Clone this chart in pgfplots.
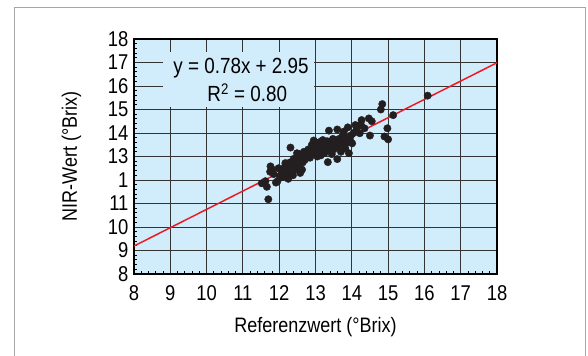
\documentclass[border=0pt]{standalone}
\usepackage{pgfplots}
\pgfplotsset{compat=1.18}
\usepackage{fontspec}
\setmainfont{Liberation Sans}[FakeStretch=0.86]
\definecolor{bgblue}{RGB}{209,236,250}
\definecolor{dotcol}{RGB}{35,31,32}
\definecolor{linered}{RGB}{237,28,36}
\begin{document}
\begin{tikzpicture}
\useasboundingbox (0,0) rectangle (588bp,356bp);
\draw[gray!70, line width=1bp] (14bp,-5bp) -- (14bp,348bp) -- (585bp,348bp) -- (585bp,-5bp);
\begin{axis}[
  at={(134bp,82bp)}, anchor=south west,
  scale only axis, width=363bp, height=235bp,
  xmin=8, xmax=18, ymin=8, ymax=18,
  xtick={8,...,18}, ytick={8,...,18},
  yticklabels={8,9,10,11,1,13,14,15,16,17,18},
  minor tick num=4,
  xtick pos=left, ytick pos=left,
  major tick length=0pt, minor tick length=3bp,
  minor tick style={black, line width=0.8bp},
  grid=major,
  major grid style={black!80, line width=0.9bp},
  axis line style={black, line width=1.3bp},
  axis background/.style={fill=bgblue},
  tick label style={font=\fontsize{21.5}{23}\selectfont},
  /pgf/number format/assume math mode=true,
  xticklabel style={yshift=-8bp},
  yticklabel style={xshift=-2bp},
  xlabel={Referenzwert (°Brix)},
  ylabel={NIR-Wert (°Brix)},
  label style={font=\fontsize{21}{23}\selectfont},
  xlabel style={yshift=-10bp},
  ylabel style={yshift=20bp},
]
\fill[bgblue] (axis cs:8.8,15.1) rectangle (axis cs:12.95,17.45);
\node[font=\fontsize{22}{24}\selectfont] at (axis cs:10.95,16.78) {y = 0.78x + 2.95};
\node[font=\fontsize{22}{24}\selectfont] at (axis cs:11.12,15.72) {R\textsuperscript{2} = 0.80};
\addplot[only marks, mark=*, mark size=3.7bp, mark options={fill=dotcol, draw=dotcol}] table {
x y
11.52 11.86
11.66 11.71
11.70 11.18
11.91 11.89
11.75 12.35
11.62 11.95
11.80 12.45
11.76 12.58
11.85 12.25
11.95 11.94
12.05 12.20
12.10 12.40
12.17 12.72
12.22 12.37
12.15 12.55
12.28 12.30
12.31 13.38
12.35 12.60
12.40 12.90
12.45 12.45
12.49 12.79
12.49 13.14
12.55 12.65
12.60 13.00
12.63 12.44
12.58 12.30
12.68 13.20
12.70 12.85
12.75 13.05
12.80 13.30
12.82 13.28
12.85 12.95
12.90 13.50
12.95 13.68
12.95 13.20
13.00 13.40
13.05 13.00
13.08 13.55
13.14 13.63
13.10 13.25
13.20 13.35
13.20 13.70
13.25 13.15
13.30 13.50
13.34 12.76
13.37 14.10
13.40 13.40
13.45 13.65
13.45 13.10
13.50 13.30
13.55 13.55
13.60 14.15
13.60 12.89
13.62 13.40
13.65 13.75
13.70 13.20
13.72 13.60
13.78 14.06
13.80 13.50
13.85 13.80
13.89 14.24
13.92 13.14
13.95 13.70
14.01 13.56
14.05 14.00
14.10 14.34
14.22 13.99
14.25 14.35
14.27 14.55
14.35 14.20
14.47 14.62
14.50 13.89
14.55 14.50
14.80 15.00
14.84 15.23
14.90 13.85
14.98 14.20
15.00 13.73
15.14 14.76
16.09 15.59
12.20 12.60
12.30 12.75
12.40 12.55
12.50 12.95
12.55 13.10
12.65 12.75
12.72 13.10
12.78 12.95
12.88 13.15
12.92 13.40
13.00 13.10
13.02 13.60
13.12 13.45
13.15 13.05
13.18 13.55
13.28 13.25
13.32 13.65
13.38 13.45
13.42 13.25
13.48 13.75
13.52 13.45
13.58 13.65
13.66 13.55
13.75 13.90
13.82 13.35
13.88 13.60
13.98 13.90
14.12 14.10
14.18 14.30
12.02 12.10
11.98 12.50
12.12 12.15
12.25 12.05
12.38 12.20
};
\addplot[linered, line width=1.5bp] coordinates {(8,9.19) (18,16.99)};
\end{axis}
\end{tikzpicture}
\end{document}
